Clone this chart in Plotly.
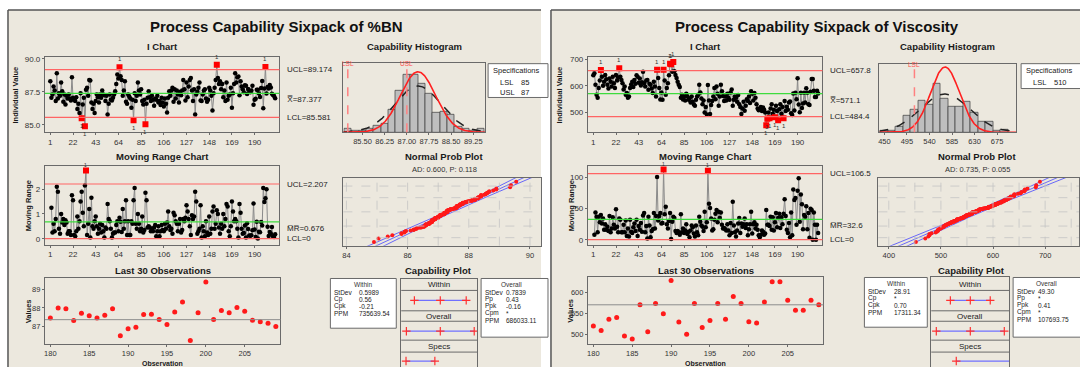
import numpy as np
import plotly.graph_objects as go
from statistics import NormalDist

W, H = 1080, 367

# ---------------------------------------------------------------- data
BN_VALUES = [
    88.3, 87.05, 87.3, 87.9, 87.6, 86.8, 88.9, 87.0, 87.4, 87.2,
    88.2, 87.55, 86.75, 87.3, 86.55, 87.2, 87.0, 87.3, 87.0, 86.85,
    88.6, 87.05, 86.9, 86.8, 87.1, 86.2, 86.6, 85.9, 87.4, 85.5,
    86.55, 87.05, 84.9, 87.65, 87.8, 87.2, 88.4, 88.35, 86.7, 86.2,
    86.6, 85.9, 86.8, 87.3, 87.1, 86.7, 87.3, 87.05, 87.6, 87.3,
    87.25, 86.8, 87.2, 85.8, 86.6, 87.3, 86.9, 86.85, 87.05, 87.3,
    87.55, 88.1, 88.8, 88.5, 89.35, 88.67, 88.4, 87.2, 87.6, 88.3,
    86.75, 86.6, 87.3, 87.15, 87.0, 86.3, 86.9, 85.35, 87.4, 86.8,
    87.2, 88.2, 87.6, 87.3, 87.7, 86.8, 86.55, 86.9, 85.05, 86.6,
    87.05, 87.55, 87.1, 86.8, 87.2, 86.9, 86.45, 87.0, 86.9, 87.2,
    86.7, 86.8, 86.5, 87.05, 86.7, 86.4, 87.0, 86.6, 85.95, 87.05,
    87.55, 87.2, 87.6, 87.8, 86.75, 87.7, 87.0, 87.6, 87.3, 86.7,
    87.5, 87.25, 87.6, 88.4, 87.7, 86.85, 88.2, 87.1, 87.9, 88.4,
    88.55, 87.6, 86.8, 87.7, 85.8, 87.3, 87.5, 87.8, 88.2, 86.85,
    86.8, 87.3, 87.6, 87.7, 87.0, 86.75, 86.9, 87.8, 87.6, 87.2,
    86.1, 87.4, 87.8, 88.4, 89.55, 88.55, 88.1, 88.3, 87.7, 88.1,
    87.1, 87.6, 86.8, 88.2, 86.9, 87.2, 87.3, 87.8, 86.3, 87.4,
    88.1, 88.9, 88.2, 88.6, 88.65, 87.25, 88.3, 87.9, 87.7,
    87.47, 88.0, 87.95, 87.33, 87.72, 87.59, 87.47, 87.61, 87.95, 86.53,
    86.9, 86.97, 87.65, 87.66, 87.38, 87.12, 87.79, 88.32, 86.27, 87.75,
    89.38, 87.38, 87.86, 87.75, 88.02, 87.82, 87.35, 87.26, 87.19, 87.01,
]

VISC_VALUES = [
    640, 648, 604, 567, 555, 592, 620, 660, 634, 600,
    616, 641, 625, 604, 590, 628, 616, 598, 634, 610,
    592, 641, 620, 632, 666, 634, 622, 610, 586, 598,
    567, 573, 555, 560, 592, 605, 616, 596, 622, 608,
    640, 634, 612, 628, 601, 614, 653, 610, 598, 620,
    622, 585, 608, 604, 590, 573, 616, 598, 560, 661,
    630, 592, 549, 575, 548, 661, 620, 567, 592, 610,
    640, 683, 682, 653, 690, 655, 641, 630, 616, 604,
    596, 555, 567, 549, 560, 545, 570, 561, 548, 552,
    537, 560, 540, 530, 525, 548, 560, 567, 604, 575,
    552, 531, 545, 500, 520, 492, 603, 545, 494, 528,
    543, 560, 592, 550, 598, 570, 525, 560, 604, 580,
    562, 543, 560, 545, 570, 555, 548, 575, 586, 525,
    548, 560, 555, 540, 566, 531, 520, 494, 515, 540,
    506, 525, 550, 543, 560, 535, 580, 570, 545, 573,
    555, 531, 515, 508, 512, 520, 505, 518, 510, 500,
    452, 476, 500, 478, 515, 531, 495, 510, 482, 525,
    505, 470, 512, 531, 495, 520, 478, 543, 505,
    521, 510, 537, 541, 497, 490, 571, 507, 574, 550,
    629, 530, 501, 574, 517, 534, 574, 537, 591, 574,
    531, 528, 578, 626, 626, 582, 558, 558, 582, 571,
]

# control limits and capability statistics
BN_UCL, BN_CL, BN_LCL = 89.174, 87.377, 85.581
BN_MR_UCL, BN_MR_BAR = 2.207, 0.676
BN_SD_WITHIN, BN_SD_OVERALL = 0.5989, 0.7839
BN_LSL, BN_USL = 85, 87
BN_AD_TEXT = "AD: 0.600, P: 0.118"
BN_WITHIN_ROWS = [("StDev", "0.5989"), ("Cp", "0.56"), ("Cpk", "-0.21"), ("PPM", "735639.54")]
BN_OVERALL_ROWS = [("StDev", "0.7839"), ("Pp", "0.43"), ("Ppk", "-0.16"), ("Cpm", "*"), ("PPM", "686033.11")]

VISC_UCL, VISC_CL, VISC_LCL = 657.8, 571.1, 484.4
VISC_MR_UCL, VISC_MR_BAR = 106.5, 32.6
VISC_SD_WITHIN, VISC_SD_OVERALL = 28.91, 49.30
VISC_LSL, VISC_USL = 510, None
VISC_AD_TEXT = "AD: 0.735, P: 0.055"
VISC_WITHIN_ROWS = [("StDev", "28.91"), ("Cp", "*"), ("Cpk", "0.70"), ("PPM", "17311.34")]
VISC_OVERALL_ROWS = [("StDev", "49.30"), ("Pp", "*"), ("Ppk", "0.41"), ("Cpm", "*"), ("PPM", "107693.75")]

# tick labels
OBS_TICKS = [1, 22, 43, 64, 85, 106, 127, 148, 169, 190]
LAST30_TICKS = [180, 185, 190, 195, 200, 205]
BN_I_TICKS = [85.0, 87.5, 90.0]
BN_HIST_TICKS = [85.50, 86.25, 87.00, 87.75, 88.50, 89.25]
BN_MR_TICKS = [0, 1, 2]
BN_NPP_TICKS = [84, 86, 88, 90]
BN_LAST_TICKS = [87, 88, 89]
VISC_I_TICKS = [500, 600, 700]
VISC_HIST_TICKS = [450, 495, 540, 585, 630, 675]
VISC_MR_TICKS = [0, 50, 100]
VISC_NPP_TICKS = [400, 500, 600, 700]
VISC_LAST_TICKS = [500, 550, 600]
NPP_GRID_PCT = [0.01, 0.10, 0.50, 0.90, 0.99]

# ---------------------------------------------------------------- style
BEIGE = "#ECE8DE"
FRAME = "#6a6a6a"
TICKC = "#333333"
LIMIT_RED = "#ff6464"
CL_GREEN = "#3ddc3d"
LINE_GRAY = "#8a8a8a"
BLUE = "#4646ff"
FONT = "Liberation Sans"
ND = NormalDist()

fig = go.Figure()
axes_layout = {}
shapes = []
annotations = []
counter = [0]


def py(p):
    return 1 - p / H


def fmt_ticks(vals, fmt):
    return [format(v, fmt) for v in vals]


def add_axes(box, xr, yr, xticks=None, yticks=None, xfmt="g", yfmt="g", tick_size=8):
    counter[0] += 1
    n = counter[0]
    s = "" if n == 1 else str(n)
    x0, x1, y0, y1 = box
    common = dict(showline=True, mirror=True, linecolor=FRAME, linewidth=1,
                  zeroline=False, showgrid=False, ticks="outside", ticklen=2,
                  tickcolor=FRAME, tickwidth=1, fixedrange=True,
                  tickfont=dict(family=FONT, size=tick_size, color=TICKC))
    xa = dict(common, domain=[x0 / W, min(x1 / W, 1.0)], anchor="y" + s, range=xr)
    ya = dict(common, domain=[max(py(y1), 0.0), py(y0)], anchor="x" + s, range=yr)
    if xticks is None:
        xa.update(showticklabels=False, ticks="")
    else:
        xa.update(tickmode="array", tickvals=xticks, ticktext=fmt_ticks(xticks, xfmt))
    if yticks is None:
        ya.update(showticklabels=False, ticks="")
    else:
        ya.update(tickmode="array", tickvals=yticks, ticktext=fmt_ticks(yticks, yfmt))
    axes_layout["xaxis" + s] = xa
    axes_layout["yaxis" + s] = ya
    return "x" + s, "y" + s


def text(x, y, s, size=8, bold=False, color="#1a1a1a", xanchor="center",
         yanchor="middle", xref="paper", yref="paper", angle=0, family=FONT):
    if xref == "paper":
        x = x / W
    if yref == "paper":
        y = py(y)
    annotations.append(dict(x=x, y=y, xref=xref, yref=yref,
                            text=("<b>%s</b>" % s) if bold else s,
                            showarrow=False, textangle=angle,
                            font=dict(size=size, color=color, family=family),
                            xanchor=xanchor, yanchor=yanchor, borderpad=0))


def hline(xa, ya, yv, color, width=1.2, dash="solid"):
    shapes.append(dict(type="line", xref=xa + " domain", yref=ya, x0=0, x1=1,
                       y0=yv, y1=yv, line=dict(color=color, width=width, dash=dash)))


def vline(xa, ya, xv, color, width=1.0, dash="solid"):
    shapes.append(dict(type="line", xref=xa, yref=ya + " domain", x0=xv, x1=xv,
                       y0=0, y1=1, line=dict(color=color, width=width, dash=dash)))


def box_rect(x0, x1, y0, y1):
    shapes.append(dict(type="rect", xref="paper", yref="paper", x0=x0 / W, x1=x1 / W,
                       y0=py(y1), y1=py(y0), fillcolor="white",
                       line=dict(color=FRAME, width=1), layer="below"))


def sc(**kw):
    kw.setdefault("hoverinfo", "skip")
    kw.setdefault("showlegend", False)
    fig.add_trace(go.Scatter(**kw))


def flag_labels(xa, ya, xs, ys, above, size=6, gap=4):
    # test-number "1" written next to each out-of-control point
    for xv, yv in zip(xs, ys):
        annotations.append(dict(x=xv, y=yv, xref=xa, yref=ya, text="1", showarrow=False,
                                yanchor="bottom" if above else "top",
                                yshift=gap if above else -gap, borderpad=0,
                                font=dict(size=size, color="#333333", family=FONT)))


def sixpack(vals, st, g):
    v = np.asarray(vals, dtype=float)
    n = len(v)
    obs = np.arange(1, n + 1)

    # panel background and frame
    shapes.append(dict(type="rect", xref="paper", yref="paper", x0=g["panel"][0] / W,
                       x1=g["panel"][1] / W, y0=0, y1=py(8), fillcolor=BEIGE,
                       line=dict(width=0), layer="below"))
    shapes.append(dict(type="line", xref="paper", yref="paper", x0=g["panel"][0] / W,
                       x1=g["panel"][1] / W, y0=py(8), y1=py(8),
                       line=dict(color="#555555", width=1.5), layer="below"))
    shapes.append(dict(type="line", xref="paper", yref="paper", x0=g["panel"][0] / W,
                       x1=g["panel"][0] / W, y0=0, y1=py(8),
                       line=dict(color="#555555", width=1.5), layer="below"))
    text(g["title_x"], 25, st["title"], size=15, bold=True, color="#111111")

    # ---------------- I chart
    ib = g["i_box"]
    xa, ya = add_axes(ib, [-4, 213], st["i_range"], OBS_TICKS, st["i_ticks"], "d", st["i_fmt"])
    text((ib[0] + ib[1]) / 2, 45, "I Chart", size=9.5, bold=True)
    hline(xa, ya, st["ucl"], LIMIT_RED)
    hline(xa, ya, st["lcl"], LIMIT_RED)
    hline(xa, ya, st["cl"], CL_GREEN)
    sc(x=obs, y=v, mode="lines+markers", line=dict(color=LINE_GRAY, width=1),
       marker=dict(color="black", size=4.5), xaxis=xa, yaxis=ya)
    hi = v > st["ucl"]
    lo = v < st["lcl"]
    out = hi | lo
    sc(x=obs[out], y=v[out], mode="markers",
       marker=dict(color="#ff0000", size=6, symbol="square"), xaxis=xa, yaxis=ya)
    flag_labels(xa, ya, obs[hi], v[hi], True)
    flag_labels(xa, ya, obs[lo], v[lo], False)
    lx = ib[1] + 6
    for yv, t, anc in ((st["ucl"], "UCL=%s" % st["ucl_txt"], "middle"),
                       (st["cl"], "X\u033f=%s" % st["cl_txt"], "top"),
                       (st["lcl"], "LCL=%s" % st["lcl_txt"], "middle")):
        annotations.append(dict(x=lx / W, y=yv, xref="paper", yref=ya, text=t,
                                showarrow=False, xanchor="left", yanchor=anc,
                                font=dict(size=8, family=FONT, color="#222222")))
    text(g["ytitle_x"][0], (ib[2] + ib[3]) / 2, "Individual Value", size=7.5, bold=True, angle=-90)

    # ---------------- capability histogram
    hb = g["hist_box"]
    xa, ya = add_axes(hb, st["hist_range"], [0, st["hist_ymax"]], st["hist_ticks"], None,
                      st["hist_fmt"], tick_size=7.5)
    text((hb[0] + hb[1]) / 2, 45, "Capability Histogram", size=9.5, bold=True)
    bw = st["bin_w"]
    fig.add_trace(go.Histogram(x=v, xbins=dict(start=st["bin_start"], end=st["bin_start"] + 40 * bw, size=bw),
                               marker=dict(color="#bebebe", line=dict(color="#3c3c3c", width=0.7)),
                               xaxis=xa, yaxis=ya, hoverinfo="skip", showlegend=False))
    xs = np.linspace(st["hist_range"][0], st["hist_range"][1], 300)
    for sd, col, dash, wd in ((st["sd_o"], "#222222", "dash", 1.5), (st["sd_w"], "#ff2020", "solid", 1.6)):
        dens = n * bw * np.exp(-0.5 * ((xs - st["cl"]) / sd) ** 2) / (sd * np.sqrt(2 * np.pi))
        sc(x=xs, y=dens, mode="lines", line=dict(color=col, width=wd, dash=dash), xaxis=xa, yaxis=ya)
    for name, val in (("LSL", st["lsl"]), ("USL", st["usl"])):
        if val is None:
            continue
        vline(xa, ya, val, "#ff8080", width=1.5, dash="dash")
        annotations.append(dict(x=val, y=py(hb[2] - 5), xref=xa, yref="paper", text=name,
                                showarrow=False, font=dict(size=6.5, color="#ff5050", family=FONT)))
    sb = g["spec_box"]
    box_rect(*sb)
    text(sb[0] + 28, sb[2] + 7, "Specifications", size=7.5, family=FONT)
    k = 0
    for name, val in (("LSL", st["lsl"]), ("USL", st["usl"])):
        if val is None:
            continue
        text(sb[0] + 11, sb[2] + 19 + 9.5 * k, name, size=7.5, xanchor="left")
        text(sb[0] + 32, sb[2] + 19 + 9.5 * k, "%g" % val, size=7.5, xanchor="left")
        k += 1

    # ---------------- moving range chart
    mb = g["mr_box"]
    mr = np.abs(np.diff(v))
    mobs = obs[1:]
    xa, ya = add_axes(mb, [-4, 213], st["mr_range"], OBS_TICKS, st["mr_ticks"], "d", "d")
    text((mb[0] + mb[1]) / 2, 155, "Moving Range Chart", size=9.5, bold=True)
    hline(xa, ya, st["mr_ucl"], LIMIT_RED)
    hline(xa, ya, 0, LIMIT_RED)
    hline(xa, ya, st["mr_bar"], CL_GREEN)
    sc(x=mobs, y=mr, mode="lines+markers", line=dict(color=LINE_GRAY, width=1),
       marker=dict(color="black", size=4.5), xaxis=xa, yaxis=ya)
    hm = mr > st["mr_ucl"]
    sc(x=mobs[hm], y=mr[hm], mode="markers",
       marker=dict(color="#ff0000", size=6, symbol="square"), xaxis=xa, yaxis=ya)
    flag_labels(xa, ya, mobs[hm], mr[hm], True, size=5, gap=2)
    for yv, t, anc in ((st["mr_ucl"], "UCL=%s" % st["mr_ucl_txt"], "middle"),
                       (st["mr_bar"], "M\u0305R\u0305=%s" % st["mr_bar_txt"], "top"),
                       (0, "LCL=0", "middle")):
        annotations.append(dict(x=(mb[1] + 6) / W, y=yv, xref="paper", yref=ya, text=t,
                                showarrow=False, xanchor="left", yanchor=anc,
                                font=dict(size=8, family=FONT, color="#222222")))
    text(g["ytitle_x"][1], (mb[2] + mb[3]) / 2, "Moving Range", size=7.5, bold=True, angle=-90)

    # ---------------- normal probability plot
    nb = g["npp_box"]
    xa, ya = add_axes(nb, st["npp_range"], [-3.05, 3.05], st["npp_ticks"], None, "d", tick_size=7.5)
    text(g["npp_title_x"], 155, "Normal Prob Plot", size=9.5, bold=True)
    text(g["npp_title_x"], 168.5, st["ad_txt"], size=7.5, color="#333333")
    for gx in st["npp_grid"]:
        vline(xa, ya, gx, "#c4c4c4", width=0.8, dash="dash")
    for pc in NPP_GRID_PCT:
        hline(xa, ya, ND.inv_cdf(pc), "#c4c4c4", width=0.8, dash="dash")
    zz = np.linspace(-3.3, 3.3, 80)
    xfit = st["cl"] + st["sd_o"] * zz
    se = st["sd_o"] * np.sqrt(1.0 / n + zz ** 2 / (2.0 * (n - 1)))
    for xl in (xfit - 1.96 * se, xfit, xfit + 1.96 * se):
        sc(x=xl, y=zz, mode="lines", line=dict(color=BLUE, width=0.8), xaxis=xa, yaxis=ya)
    srt = np.sort(v)
    zq = [ND.inv_cdf((i - 0.3) / (n + 0.4)) for i in range(1, n + 1)]
    sc(x=srt, y=zq, mode="markers", marker=dict(color="#ff1a1a", size=4), xaxis=xa, yaxis=ya)

    # ---------------- last 30 observations
    lb = g["last_box"]
    xa, ya = add_axes(lb, [179.3, 209.6], st["last_range"], LAST30_TICKS, st["last_ticks"], "d", "d",
                      tick_size=7.5)
    text((lb[0] + lb[1]) / 2, 269.5, "Last 30 Observations", size=9.5, bold=True)
    hline(xa, ya, st["cl"], "#8c8c8c", width=1)
    sc(x=obs[-30:], y=v[-30:], mode="markers", marker=dict(color="#ff1a1a", size=5),
       xaxis=xa, yaxis=ya)
    text((lb[0] + lb[1]) / 2, 363, "Observation", size=7, bold=True)
    text(g["ytitle_x"][2], (lb[2] + lb[3]) / 2, "Values", size=7.5, bold=True, angle=-90)

    # ---------------- capability plot
    text(g["cap_title_x"], 269.5, "Capability Plot", size=9.5, bold=True)
    for bx, rows, head, voff in ((g["within_box"], st["within_rows"], "Within", g["val_off"][0]),
                                 (g["overall_box"], st["overall_rows"], "Overall", g["val_off"][1])):
        box_rect(*bx)
        text((bx[0] + min(bx[1], g["panel"][1])) / 2, bx[2] + 6, head, size=6.5, color="#333333")
        for k, (lab, val) in enumerate(rows):
            yy = bx[2] + 14 + 7 * k
            text(bx[0] + 3, yy, lab, size=6.5, xanchor="left", color="#222222")
            text(bx[0] + voff, yy, val, size=6.5, xanchor="left", color="#222222")
    cb = g["cap_box"]
    xa, ya = add_axes(cb, st["cap_range"], [367, cb[2]])
    for yv in (290, 310.5, 321, 340, 352):
        hline(xa, ya, yv, FRAME, width=1)
    for yv, lab in ((284.5, "Within"), (316, "Overall"), (346, "Specs")):
        annotations.append(dict(x=0.5, y=yv, xref=xa + " domain", yref=ya, text=lab, showarrow=False,
                                font=dict(size=8, family=FONT, color="#222222")))
    cl = st["cl"]
    cap_rows = [
        ([cl - 3 * st["sd_w"], cl, cl + 3 * st["sd_w"]], 300, [True, True, True]),
        ([cl - 3 * st["sd_o"], cl, cl + 3 * st["sd_o"]], 331, [True, True, True]),
    ]
    if st["usl"] is None:
        cap_rows.append(([st["lsl"], st["cap_range"][1]], 361, [True, False]))
    else:
        cap_rows.append(([st["lsl"], st["usl"]], 361, [True, True]))
    for xs_, yy, show in cap_rows:
        sc(x=xs_, y=[yy] * len(xs_), mode="lines", line=dict(color="#7070ff", width=1.3),
           xaxis=xa, yaxis=ya)
        mx = [x for x, s in zip(xs_, show) if s]
        sc(x=mx, y=[yy] * len(mx), mode="markers",
           marker=dict(symbol="cross-thin", size=6, line=dict(color="#ff3030", width=1.2)),
           xaxis=xa, yaxis=ya)


BN_STATS = dict(
    title="Process Capability Sixpack of %BN",
    ucl=BN_UCL, cl=BN_CL, lcl=BN_LCL, ucl_txt="89.174", cl_txt="87.377", lcl_txt="85.581",
    i_range=[84.45, 90.15], i_ticks=BN_I_TICKS, i_fmt=".1f",
    hist_range=[84.85, 89.65], hist_ymax=40, hist_ticks=BN_HIST_TICKS, hist_fmt=".2f",
    bin_start=84.875, bin_w=0.25, sd_w=BN_SD_WITHIN, sd_o=BN_SD_OVERALL,
    lsl=BN_LSL, usl=BN_USL,
    mr_ucl=BN_MR_UCL, mr_bar=BN_MR_BAR, mr_ucl_txt="2.207", mr_bar_txt="0.676",
    mr_range=[-0.24, 2.93], mr_ticks=BN_MR_TICKS,
    npp_range=[83.9, 90.36], npp_ticks=BN_NPP_TICKS, npp_grid=list(range(84, 91)),
    ad_txt=BN_AD_TEXT,
    last_range=[86.08, 89.56], last_ticks=BN_LAST_TICKS,
    within_rows=BN_WITHIN_ROWS, overall_rows=BN_OVERALL_ROWS,
    cap_range=[84.67, 89.93],
)

VISC_STATS = dict(
    title="Process Capability Sixpack of Viscosity",
    ucl=VISC_UCL, cl=VISC_CL, lcl=VISC_LCL, ucl_txt="657.8", cl_txt="571.1", lcl_txt="484.4",
    i_range=[425, 710], i_ticks=VISC_I_TICKS, i_fmt="d",
    hist_range=[440, 713], hist_ymax=45.5, hist_ticks=VISC_HIST_TICKS, hist_fmt="d",
    bin_start=442.5, bin_w=15, sd_w=VISC_SD_WITHIN, sd_o=VISC_SD_OVERALL,
    lsl=VISC_LSL, usl=VISC_USL,
    mr_ucl=VISC_MR_UCL, mr_bar=VISC_MR_BAR, mr_ucl_txt="106.5", mr_bar_txt="32.6",
    mr_range=[-8, 118.6], mr_ticks=VISC_MR_TICKS,
    npp_range=[380, 765], npp_ticks=VISC_NPP_TICKS, npp_grid=list(range(400, 751, 50)),
    ad_txt=VISC_AD_TEXT,
    last_range=[477.7, 636], last_ticks=VISC_LAST_TICKS,
    within_rows=VISC_WITHIN_ROWS, overall_rows=VISC_OVERALL_ROWS,
    cap_range=[401.3, 740],
)

LEFT_GEOM = dict(
    panel=(7, 541), title_x=276,
    i_box=(44, 279, 55, 131), hist_box=(343, 485, 61, 131), spec_box=(488, 548, 62, 96),
    mr_box=(44, 279, 165, 244), npp_box=(343, 541, 177, 245), npp_title_x=444,
    last_box=(44, 280, 278, 344), cap_title_x=438,
    within_box=(330, 396, 278, 328), cap_box=(401, 477, 279, 367),
    overall_box=(481, 548, 278, 337), val_off=(28, 24),
    ytitle_x=(15, 27, 27),
)

RIGHT_GEOM = dict(
    panel=(551, 1081), title_x=818,
    i_box=(588, 823, 55, 131), hist_box=(880, 1017, 62, 131), spec_box=(1022, 1090, 62, 87),
    mr_box=(588, 823, 165, 244), npp_box=(879, 1081, 177, 245), npp_title_x=978,
    last_box=(588, 824, 277, 344), cap_title_x=972,
    within_box=(865, 928, 277, 327), cap_box=(932, 1010, 277, 367),
    overall_box=(1014, 1090, 277, 337), val_off=(29, 24),
    ytitle_x=(560, 571, 571),
)

sixpack(BN_VALUES, BN_STATS, LEFT_GEOM)
sixpack(VISC_VALUES, VISC_STATS, RIGHT_GEOM)

fig.update_layout(
    width=W, height=H, margin=dict(l=0, r=0, t=0, b=0),
    paper_bgcolor="white", plot_bgcolor="white", showlegend=False,
    bargap=0, shapes=shapes, annotations=annotations,
    font=dict(family=FONT, size=8, color="#222222"),
    **axes_layout,
)

fig.write_html("out.html")
